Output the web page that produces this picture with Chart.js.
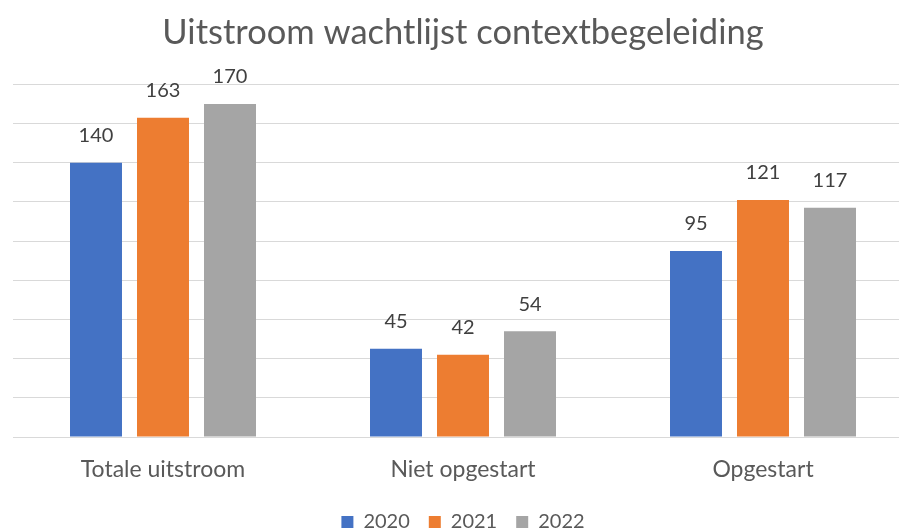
<!DOCTYPE html>
<html>
<head>
<meta charset="utf-8">
<script src="https://cdn.jsdelivr.net/npm/chart.js@4/dist/chart.umd.min.js"></script>
<style>
  html, body { margin: 0; padding: 0; background: #fff; overflow: hidden; }
  #wrap { width: 913px; height: 542px; }
</style>
</head>
<body>
<div id="wrap"><canvas id="chart"></canvas></div>
<script>
const categories = ['Totale uitstroom', 'Niet opgestart', 'Opgestart'];
const years = ['2020', '2021', '2022'];
const values2020 = [140, 45, 95];
const values2021 = [163, 42, 121];
const values2022 = [170, 54, 117];
const colors = ['#4472C4', '#ED7D31', '#A5A5A5'];

const fontFamily = "Lato, 'Open Sans', 'Noto Sans', sans-serif";

// labels above each bar
const barLabels = {
    id: 'barLabels',
    afterDatasetsDraw(chart) {
        const ctx = chart.ctx;
        ctx.save();
        ctx.fillStyle = '#404040';
        ctx.font = '20px ' + fontFamily;
        ctx.textAlign = 'center';
        ctx.textBaseline = 'middle';
        chart.data.datasets.forEach((ds, i) => {
            chart.getDatasetMeta(i).data.forEach((bar, j) => {
                ctx.fillText(ds.data[j], bar.x, bar.y - 27);
            });
        });
        ctx.restore();
    }
};

const ctx = document.getElementById('chart').getContext('2d');
new Chart(ctx, {
    type: 'bar',
    data: {
        labels: categories,
        datasets: [values2020, values2021, values2022].map((d, i) => ({
            label: years[i],
            data: d,
            backgroundColor: colors[i],
            barPercentage: 0.776,
            categoryPercentage: 0.67
        }))
    },
    options: {
        responsive: true,
        maintainAspectRatio: false,
        animation: false,
        layout: { padding: { left: 13, right: 0, top: 0, bottom: 0 } },
        plugins: {
            title: {
                display: true,
                text: 'Uitstroom wachtlijst contextbegeleiding',
                color: '#595959',
                font: { family: fontFamily, size: 34.5, weight: 'normal' },
                padding: { top: 12, bottom: 31 }
            },
            legend: {
                position: 'bottom',
                labels: {
                    color: '#595959',
                    font: { family: fontFamily, size: 20 },
                    boxWidth: 12,
                    boxHeight: 12,
                    padding: 19
                }
            },
            tooltip: { enabled: false }
        },
        scales: {
            x: {
                grid: { display: false },
                border: { display: false },
                ticks: {
                    color: '#595959',
                    font: { family: fontFamily, size: 23 },
                    padding: 11
                },
                afterFit(scale) { scale.height = 56; }
            },
            y: {
                min: 0,
                max: 180,
                ticks: { display: false, stepSize: 20 },
                border: { display: false },
                grid: { color: '#d9d9d9', lineWidth: 1, drawTicks: false }
            }
        }
    },
    plugins: [barLabels]
});
</script>
</body>
</html>
